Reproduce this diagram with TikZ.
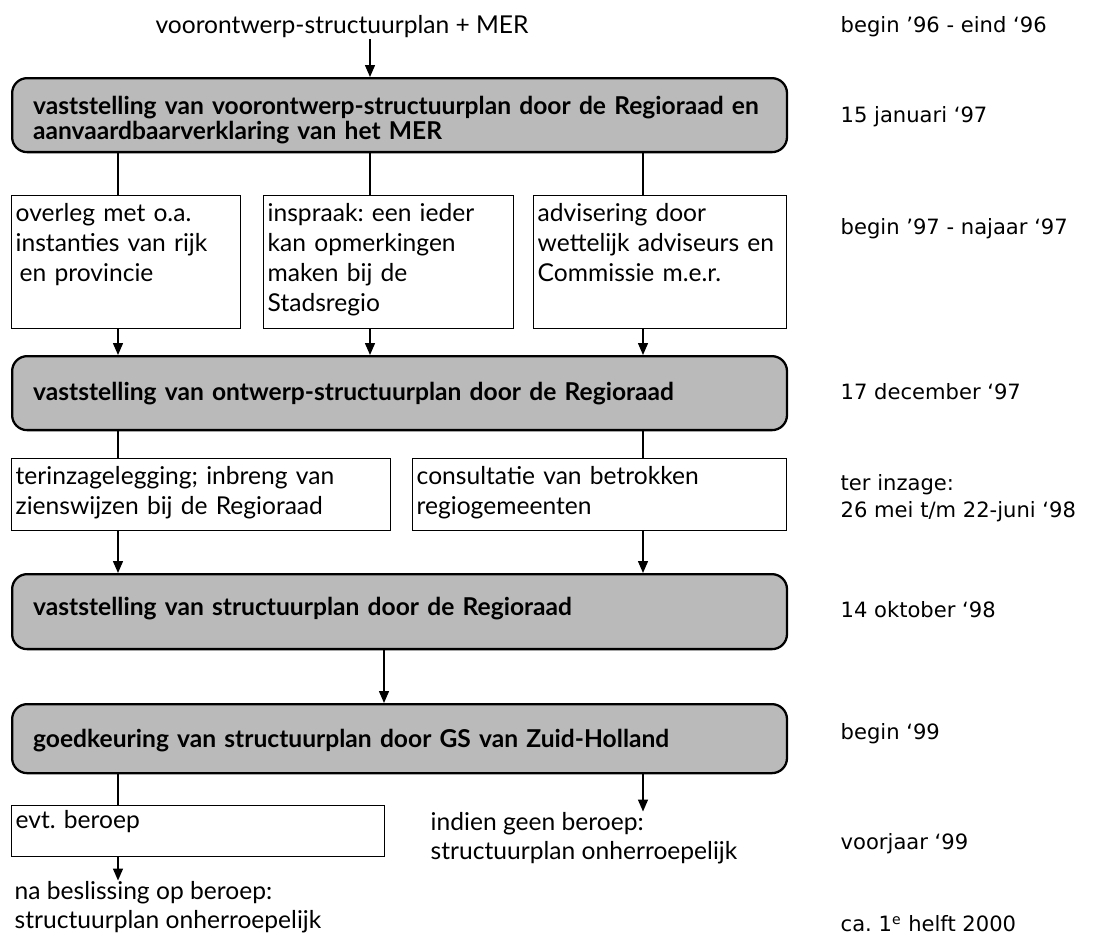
\documentclass[tikz,border=0pt]{standalone}
\usepackage{fontspec}
\setmainfont{Lato}
\newfontfamily\datumfont{DejaVu Sans}
\usepackage{tikz}
\usetikzlibrary{positioning,arrows.meta}
\frenchspacing

\begin{document}
\begin{tikzpicture}[x=0.02cm,y=-0.02cm,line width=0.8pt,
  pijl/.style={-{Triangle[length=0.24cm,width=0.2cm]}},
  grijs/.style={draw,line width=1.3pt,rounded corners=0.3cm,fill=black!27,
    anchor=north west,align=left,inner ysep=0pt,inner xsep=0.42cm,
    text width=14.66cm,font=\fontsize{14}{14.5}\selectfont\bfseries},
  vak/.style={draw,anchor=north west,align=left,inner ysep=0pt,inner xsep=0.08cm,
    font=\fontsize{14}{17}\selectfont},
  tekst/.style={anchor=west,align=left,inner sep=0pt,font=\fontsize{14}{16.5}\selectfont},
  datum/.style={anchor=west,align=left,inner sep=0pt,font=\datumfont\fontsize{12}{15}\selectfont}]
  \useasboundingbox (0,0) rectangle (1093,938);
  % kolommen voor de verbindingen
  \coordinate (k1) at (118,0);
  \coordinate (k2) at (370,0);
  \coordinate (k3) at (643,0);
  \coordinate (k4) at (384,0);
  % de stappen
  \node[tekst,anchor=center] (titel) at (342,27) {voorontwerp-structuurplan + MER};
  \node[grijs,text height=0.72cm,text depth=0.76cm] (vast1) at (11,77)
    {vaststelling van voorontwerp-structuurplan door de Regioraad en\\
     aanvaardbaarverklaring van het MER};
  \node[vak,text width=4.42cm,text height=0.52cm,text depth=2.14cm] (overleg) at (11,195)
    {overleg met o.a.\\ instanties van rijk\\ \hspace{0.08cm}en provincie};
  \node[vak,text width=4.84cm,text height=0.52cm,text depth=2.14cm] (inspraak) at (263,195)
    {inspraak: een ieder\\ kan opmerkingen\\ maken bij de\\ Stadsregio};
  \node[vak,text width=4.9cm,text height=0.52cm,text depth=2.14cm] (advies) at (533,195)
    {advisering door\\ wettelijk adviseurs en\\ Commissie m.e.r.};
  \node[grijs,text height=0.88cm,text depth=0.6cm] (vast2) at (11,355)
    {vaststelling van ontwerp-structuurplan door de Regioraad};
  \node[vak,text width=7.42cm,text height=0.52cm,text depth=0.92cm] (inzage) at (11,458)
    {terinzagelegging; inbreng van\\ zienswijzen bij de Regioraad};
  \node[vak,text width=7.32cm,text height=0.52cm,text depth=0.92cm] (consult) at (412,458)
    {consultatie van betrokken\\ regiogemeenten};
  \node[grijs,text height=0.82cm,text depth=0.68cm] (vast3) at (11,573)
    {vaststelling van structuurplan door de Regioraad};
  \node[grijs,text height=0.86cm,text depth=0.52cm] (goedk) at (11,703)
    {goedkeuring van structuurplan door GS van Zuid-Holland};
  \node[vak,text width=7.3cm,text height=0.46cm,text depth=0.56cm] (beroep) at (11,805)
    {evt. beroep};
  \node[tekst] (geen) at (430,838) {indien geen beroep:\\ structuurplan onherroepelijk};
  \node[tekst] (beslis) at (14,907) {na beslissing op beroep:\\ structuurplan onherroepelijk};
  % verbindingen
  \draw[pijl] (titel.south -| k2) -- (vast1.north -| k2);
  \foreach \k/\n in {k1/overleg,k2/inspraak,k3/advies} {
    \draw (vast1.south -| \k) -- (\n.north -| \k);
    \draw[pijl] (\n.south -| \k) -- (vast2.north -| \k);
  }
  \foreach \k/\n in {k1/inzage,k3/consult} {
    \draw (vast2.south -| \k) -- (\n.north -| \k);
    \draw[pijl] (\n.south -| \k) -- (vast3.north -| \k);
  }
  \draw[pijl] (vast3.south -| k4) -- (goedk.north -| k4);
  \draw (goedk.south -| k1) -- (beroep.north -| k1);
  \draw[pijl] (goedk.south -| k3) -- (geen.north -| k3);
  \draw[pijl] (beroep.south -| k1) -- (beslis.north -| k1);
  % data
  \node[datum] (d1) at (840,27) {begin ’96 - eind ‘96};
  \node[datum] (d2) at (840,117) {15 januari ‘97};
  \node[datum] (d3) at (840,229) {begin ’97 - najaar ‘97};
  \node[datum] (d4) at (840,392) {17 december ‘97};
  \node[datum] (d5) at (840,498) {ter inzage:\\ 26 mei t/m 22-juni ‘98};
  \node[datum] (d6) at (840,610) {14 oktober ‘98};
  \node[datum] (d7) at (840,734) {begin ‘99};
  \node[datum] (d8) at (840,844) {voorjaar ‘99};
  \node[datum] (d9) at (840,924) {ca. 1\textsuperscript{e} helft 2000};
\end{tikzpicture}
\end{document}
